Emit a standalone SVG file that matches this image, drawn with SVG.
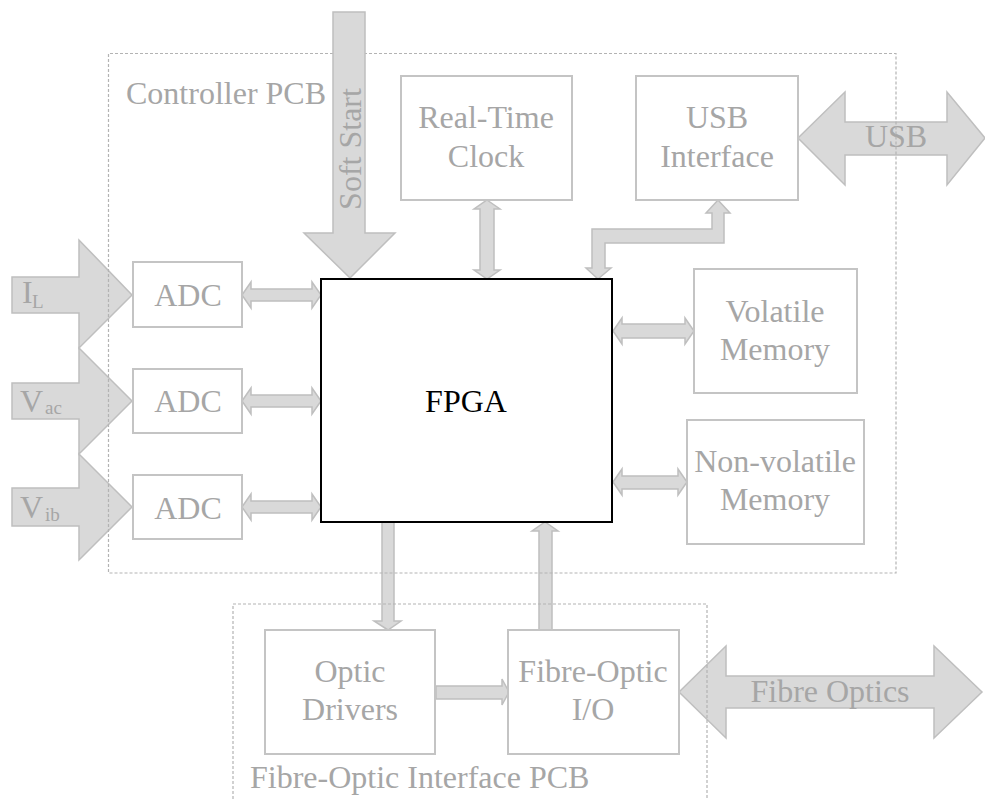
<svg xmlns="http://www.w3.org/2000/svg" width="985" height="799" viewBox="0 0 985 799">
  <style>
    .pcb { fill: none; stroke: #b3b3b3; stroke-width: 1.2; stroke-dasharray: 3 2; }
    .box { fill: #ffffff; stroke: #c4c4c4; stroke-width: 2; }
    .core { fill: #ffffff; stroke: #000000; stroke-width: 2; }
    .flow { fill: #d9d9d9; stroke: #bfbfbf; stroke-width: 1.5; stroke-linejoin: miter; }
    text { font-family: 'Liberation Serif', 'DejaVu Serif', serif; font-size: 32px; fill: #a6a6a6; }
    .c { text-anchor: middle; }
    .sub { font-size: 19px; }
    .k { fill: #000000; }
  </style>

  <!-- connectors -->
  <g id="connectors">
    <!-- analogue inputs -->
    <polygon class="flow" points="12,277 79,277 79,240 132,295 79,348 79,313 12,313"/>
    <polygon class="flow" points="12,383 79,383 79,348 132,401 79,454 79,419 12,419"/>
    <polygon class="flow" points="12,488 79,488 79,454 132,507 79,560 79,526 12,526"/>
    <!-- ADC <-> FPGA -->
    <polygon class="flow" points="242,295 251,282 251,289 312,289 312,282 321,295 312,308 312,301 251,301 251,308"/>
    <polygon class="flow" points="242,401 251,388 251,395 312,395 312,388 321,401 312,414 312,407 251,407 251,414"/>
    <polygon class="flow" points="242,507 251,494 251,501 312,501 312,494 321,507 312,520 312,513 251,513 251,520"/>
    <!-- RTC <-> FPGA -->
    <polygon class="flow" points="487,200 500,209 494,209 494,270 500,270 487,279 474,270 480,270 480,209 474,209"/>
    <!-- USB interface <-> FPGA -->
    <polygon class="flow" points="598,279 611,268 605,268 605,243 724,243 724,213 730,213 718,200 706,213 712,213 712,229 592,229 592,268 586,268"/>
    <!-- USB bus -->
    <polygon class="flow" points="798,138 845,92 845,122 947,122 947,92 985,138 947,185 947,155 845,155 845,185"/>
    <!-- FPGA <-> memories -->
    <polygon class="flow" points="613,331 622,318 622,324 685,324 685,318 694,331 685,344 685,338 622,338 622,344"/>
    <polygon class="flow" points="613,482 622,469 622,476 678,476 678,469 687,482 678,495 678,489 622,489 622,495"/>
    <!-- FPGA -> optic drivers -->
    <polygon class="flow" points="382,522 394,522 394,621 401,621 388,630 374,621 382,621"/>
    <!-- fibre-optic I/O -> FPGA -->
    <polygon class="flow" points="539,630 552,630 552,531 558,531 545,522 532,531 539,531"/>
    <!-- optic drivers -> fibre-optic I/O -->
    <polygon class="flow" points="436,686 502,686 502,679 509,692 502,705 502,699 436,699"/>
    <!-- fibre optics link -->
    <polygon class="flow" points="679,692 726,646 726,676 934,676 934,646 982,692 934,738 934,708 726,708 726,738"/>
    <text class="c" x="896" y="147">USB</text>
    <text class="c" x="830" y="702">Fibre Optics</text>
    <text x="22" y="303">I<tspan class="sub" x="32" y="308">L</tspan></text>
    <text x="20" y="412">V<tspan class="sub" x="45" y="414">ac</tspan></text>
    <text x="20" y="518">V<tspan class="sub" x="45" y="521">ib</tspan></text>
  </g>

  <!-- board outlines (the top edge is broken where the soft-start feed enters) -->
  <g id="controller-pcb">
    <path class="pcb" d="M333 53.5 H108.5 V573 H896 V53.5 H365"/>
    <text x="126" y="104">Controller PCB</text>
  </g>
  <g id="fibre-pcb">
    <path class="pcb" d="M233 799 V604 H707 V799"/>
    <text x="250" y="788">Fibre-Optic Interface PCB</text>
  </g>

  <!-- soft start feed -->
  <g id="soft-start">
    <polygon class="flow" points="333,12 365,12 365,233 395,233 350,278 304,233 333,233"/>
    <text class="c" transform="translate(361 149) rotate(-90)">Soft Start</text>
  </g>

  <!-- nodes -->
  <g id="adc-1">
    <rect class="box" x="133" y="262" width="109" height="65"/>
    <text class="c" x="188" y="306">ADC</text>
  </g>
  <g id="adc-2">
    <rect class="box" x="133" y="369" width="109" height="64"/>
    <text class="c" x="188" y="412">ADC</text>
  </g>
  <g id="adc-3">
    <rect class="box" x="133" y="475" width="109" height="64"/>
    <text class="c" x="188" y="519">ADC</text>
  </g>
  <g id="fpga">
    <rect class="core" x="321" y="279" width="291" height="243"/>
    <text class="c k" x="466" y="412">FPGA</text>
  </g>
  <g id="rtc">
    <rect class="box" x="401" y="76" width="171" height="124"/>
    <text class="c" x="486" y="128">Real-Time</text>
    <text class="c" x="486" y="167">Clock</text>
  </g>
  <g id="usb-interface">
    <rect class="box" x="636" y="76" width="162" height="124"/>
    <text class="c" x="717" y="128">USB</text>
    <text class="c" x="717" y="167">Interface</text>
  </g>
  <g id="volatile-memory">
    <rect class="box" x="694" y="269" width="163" height="124"/>
    <text class="c" x="775" y="322">Volatile</text>
    <text class="c" x="775" y="360">Memory</text>
  </g>
  <g id="non-volatile-memory">
    <rect class="box" x="687" y="420" width="177" height="124"/>
    <text class="c" x="775" y="472">Non-volatile</text>
    <text class="c" x="775" y="510">Memory</text>
  </g>
  <g id="optic-drivers">
    <rect class="box" x="265" y="630" width="170" height="124"/>
    <text class="c" x="350" y="682">Optic</text>
    <text class="c" x="350" y="720">Drivers</text>
  </g>
  <g id="fibre-optic-io">
    <rect class="box" x="508" y="630" width="171" height="124"/>
    <text class="c" x="593" y="682">Fibre-Optic</text>
    <text class="c" x="593" y="720">I/O</text>
  </g>
</svg>
